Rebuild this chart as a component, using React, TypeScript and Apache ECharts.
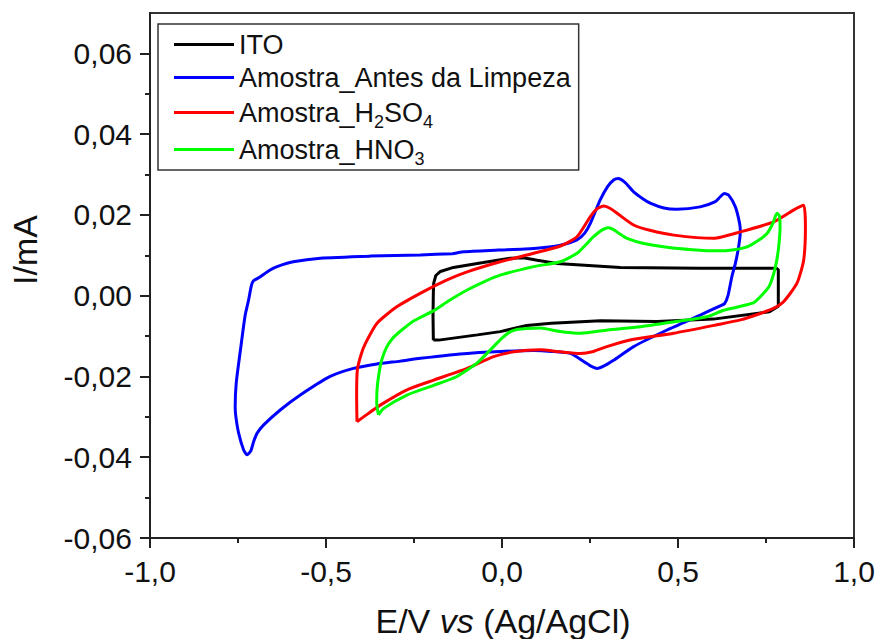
import React, { useEffect, useRef } from 'react';
import * as echarts from 'echarts';

// ---- data ----
const seriesNames = ['ITO', 'Amostra_Antes da Limpeza', 'Amostra_H2SO4', 'Amostra_HNO3'];
const seriesColors = ['#000000', '#0000ff', '#ff0000', '#00ff00'];
const yMajorTicks = [-0.06, -0.04, -0.02, 0, 0.02, 0.04, 0.06];
const yMinorTicks = [-0.05, -0.03, -0.01, 0.01, 0.03, 0.05];

const itoData: number[][] = [
  [-0.195, -0.0110], [-0.196, -0.0050], [-0.195, 0.0010], [-0.194, 0.0031], [-0.188, 0.0050],
  [-0.175, 0.0060], [-0.138, 0.0070], [-0.053, 0.0082], [0.024, 0.0093], [0.061, 0.0094], [0.100, 0.0088],
  [0.156, 0.0080], [0.336, 0.0070], [0.563, 0.0068], [0.780, 0.0068], [0.785, 0.0064],
  [0.785, -0.0026], [0.760, -0.0040], [0.600, -0.0058], [0.440, -0.0064], [0.280, -0.0062],
  [0.140, -0.0068], [0.070, -0.0074], [-0.005, -0.0089], [-0.070, -0.0097], [-0.180, -0.0110],
  [-0.195, -0.0110],
];

const antesData: number[][] = [
  [-0.140, 0.0104], [-0.109, 0.0109], [-0.010, 0.0113], [0.090, 0.0117], [0.166, 0.0125],
  [0.213, 0.0138], [0.235, 0.0155], [0.251, 0.0179], [0.279, 0.0237], [0.300, 0.0270],
  [0.318, 0.0287], [0.330, 0.0290], [0.350, 0.0280], [0.374, 0.0257], [0.400, 0.0240],
  [0.421, 0.0229], [0.460, 0.0217], [0.497, 0.0214], [0.563, 0.0220], [0.606, 0.0233],
  [0.620, 0.0245], [0.632, 0.0253], [0.644, 0.0249], [0.663, 0.0220], [0.675, 0.0179],
  [0.677, 0.0158], [0.672, 0.0120], [0.663, 0.0080], [0.653, 0.0047], [0.642, 0.0000],
  [0.632, -0.0020], [0.620, -0.0025], [0.563, -0.0048], [0.469, -0.0085], [0.374, -0.0126],
  [0.317, -0.0160], [0.290, -0.0174], [0.270, -0.0180], [0.250, -0.0173], [0.232, -0.0163],
  [0.194, -0.0143], [0.140, -0.0138], [0.090, -0.0136], [-0.099, -0.0143], [-0.232, -0.0155],
  [-0.289, -0.0162], [-0.355, -0.0169], [-0.422, -0.0180], [-0.488, -0.0200], [-0.573, -0.0246],
  [-0.630, -0.0283], [-0.677, -0.0320], [-0.696, -0.0341], [-0.705, -0.0360], [-0.714, -0.0385],
  [-0.724, -0.0394], [-0.734, -0.0382], [-0.748, -0.0341], [-0.756, -0.0300], [-0.758, -0.0275],
  [-0.755, -0.0216], [-0.743, -0.0134], [-0.730, -0.0050], [-0.720, -0.0011], [-0.712, 0.0025],
  [-0.706, 0.0037], [-0.690, 0.0045], [-0.660, 0.0063], [-0.639, 0.0072], [-0.593, 0.0084],
  [-0.516, 0.0093], [-0.374, 0.0098], [-0.232, 0.0101], [-0.140, 0.0104],
];

const h2so4Data: number[][] = [
  [-0.412, -0.0312], [-0.413, -0.0250], [-0.411, -0.0184], [-0.400, -0.0145], [-0.388, -0.0118],
  [-0.355, -0.0068], [-0.298, -0.0027], [-0.223, 0.0010], [-0.156, 0.0039], [-0.099, 0.0059],
  [-0.005, 0.0084], [0.090, 0.0105], [0.166, 0.0123], [0.213, 0.0146], [0.251, 0.0196],
  [0.270, 0.0215], [0.289, 0.0222], [0.308, 0.0216], [0.327, 0.0204], [0.374, 0.0175],
  [0.420, 0.0162], [0.488, 0.0150], [0.601, 0.0142], [0.677, 0.0158], [0.772, 0.0183],
  [0.828, 0.0212], [0.857, 0.0224], [0.862, 0.0171], [0.857, 0.0088], [0.838, 0.0031],
  [0.800, -0.0015], [0.772, -0.0031], [0.734, -0.0044], [0.677, -0.0060], [0.611, -0.0072],
  [0.488, -0.0093], [0.374, -0.0108], [0.298, -0.0126], [0.260, -0.0138], [0.222, -0.0143],
  [0.166, -0.0139], [0.109, -0.0134], [0.033, -0.0139], [-0.024, -0.0151], [-0.099, -0.0180],
  [-0.194, -0.0209], [-0.270, -0.0233], [-0.346, -0.0271], [-0.393, -0.0300], [-0.412, -0.0312],
];

const hno3Data: number[][] = [
  [-0.351, -0.0295], [-0.356, -0.0265], [-0.355, -0.0233], [-0.350, -0.0195], [-0.342, -0.0160],
  [-0.328, -0.0128], [-0.310, -0.0105], [-0.289, -0.0088], [-0.250, -0.0062], [-0.194, -0.0037],
  [-0.150, -0.0012], [-0.099, 0.0014], [-0.050, 0.0035], [-0.005, 0.0051], [0.090, 0.0072],
  [0.166, 0.0084], [0.213, 0.0105], [0.240, 0.0128], [0.260, 0.0146], [0.285, 0.0163],
  [0.303, 0.0168], [0.318, 0.0163], [0.336, 0.0152], [0.355, 0.0142], [0.400, 0.0130],
  [0.469, 0.0120], [0.540, 0.0114], [0.611, 0.0111], [0.660, 0.0114], [0.696, 0.0121],
  [0.730, 0.0138], [0.753, 0.0154], [0.770, 0.0180], [0.781, 0.0204], [0.788, 0.0198],
  [0.790, 0.0170], [0.786, 0.0121], [0.780, 0.0085], [0.772, 0.0055], [0.760, 0.0025],
  [0.743, 0.0006], [0.714, -0.0018], [0.630, -0.0036], [0.582, -0.0052], [0.480, -0.0066],
  [0.393, -0.0077], [0.300, -0.0085], [0.222, -0.0093], [0.160, -0.0088], [0.109, -0.0080],
  [0.071, -0.0081], [0.045, -0.0083], [0.024, -0.0089], [0.000, -0.0105], [-0.024, -0.0126],
  [-0.071, -0.0167], [-0.128, -0.0200], [-0.194, -0.0222], [-0.270, -0.0246], [-0.336, -0.0279],
  [-0.351, -0.0295],
];

const allData = [itoData, antesData, h2so4Data, hno3Data];

const legendLabels: Record<string, string> = {
  'ITO': '{n|ITO}',
  'Amostra_Antes da Limpeza': '{n|Amostra_Antes da Limpeza}',
  'Amostra_H2SO4': '{n|Amostra_H}{s|2}{n|SO}{s|4}',
  'Amostra_HNO3': '{n|Amostra_HNO}{s|3}',
};

const FONT = 'Liberation Sans, Arial, sans-serif';
const fmtComma = (v: number, d: number) => v.toFixed(d).replace('.', ',');

export default function App() {
  const ref = useRef<HTMLDivElement>(null);
  useEffect(() => {
    if (!ref.current) return;
    const chart = echarts.init(ref.current, undefined, { renderer: 'svg' });
    const axisColor = '#222';
    chart.setOption({
      animation: false,
      backgroundColor: '#ffffff',
      grid: {
        left: 150, right: 25, top: 13, bottom: 101, containLabel: false,
        show: true, borderColor: '#333', borderWidth: 2,
      },
      legend: {
        orient: 'vertical',
        left: 158,
        top: 24,
        data: seriesNames,
        selectedMode: false,
        icon: 'rect',
        itemWidth: 60,
        itemHeight: 3,
        itemGap: 0,
        padding: [4, 8, 2, 16],
        backgroundColor: '#ffffff',
        borderColor: '#333',
        borderWidth: 1.5,
        formatter: (name: string) => legendLabels[name] || name,
        textStyle: {
          fontFamily: FONT,
          fontSize: 27,
          lineHeight: 33,
          color: '#111',
          rich: {
            n: { fontFamily: FONT, fontSize: 27, lineHeight: 33, color: '#111' },
            s: { fontFamily: FONT, fontSize: 18, lineHeight: 18, color: '#111', padding: [19, 0, 0, 0] },
          },
        },
      },
      xAxis: {
        type: 'value',
        min: -1,
        max: 1,
        interval: 0.5,
        splitLine: { show: false },
        axisLine: { show: true, onZero: false, lineStyle: { color: axisColor, width: 2 } },
        axisTick: { show: true, inside: false, length: 10, lineStyle: { color: axisColor, width: 2 } },
        minorTick: { show: true, splitNumber: 2, length: 5, lineStyle: { color: axisColor, width: 2 } },
        axisLabel: {
          fontFamily: FONT, fontSize: 30, color: '#111', margin: 18,
          formatter: (v: number) => fmtComma(v, 1),
        },
      },
      yAxis: [
        {
          type: 'value',
          position: 'left',
          min: -0.06,
          max: 0.07,
          interval: 0.02,
          splitLine: { show: false },
          axisLine: { show: true, onZero: false, lineStyle: { color: axisColor, width: 2 } },
          axisTick: { show: true, inside: false, length: 10, customValues: yMajorTicks, lineStyle: { color: axisColor, width: 2 } },
          minorTick: { show: false },
          axisLabel: {
            fontFamily: FONT, fontSize: 30, color: '#111', margin: 18,
            customValues: yMajorTicks,
            formatter: (v: number) => fmtComma(v, 2),
          },
        },
        {
          type: 'value',
          position: 'left',
          min: -0.06,
          max: 0.07,
          interval: 0.02,
          alignTicks: false,
          splitLine: { show: false },
          axisLine: { show: false, onZero: false },
          axisTick: { show: true, inside: false, length: 5, customValues: yMinorTicks, lineStyle: { color: axisColor, width: 2 } },
          axisLabel: { show: false },
        },
      ],
      series: seriesNames.map((name, i) => ({
        name,
        type: 'line',
        data: allData[i],
        xAxisIndex: 0,
        yAxisIndex: 0,
        showSymbol: false,
        symbol: 'none',
        smooth: i === 0 ? false : 0.2,
        clip: true,
        color: seriesColors[i],
        lineStyle: { color: seriesColors[i], width: 3 },
        z: 2 + i,
      })),
      graphic: [
        {
          type: 'text',
          x: 503,
          y: 621,
          style: {
            text: '{n|E/V }{i|vs}{n| (Ag/AgCl)}',
            align: 'center',
            verticalAlign: 'middle',
            fontFamily: FONT,
            fontSize: 34,
            fill: '#111',
            rich: {
              n: { fontFamily: FONT, fontSize: 34, fill: '#111' },
              i: { fontFamily: FONT, fontSize: 34, fontStyle: 'italic', fill: '#111' },
            },
          },
        },
        {
          type: 'text',
          x: 25,
          y: 250,
          rotation: Math.PI / 2,
          style: {
            text: 'I/mA',
            align: 'center',
            verticalAlign: 'middle',
            fontFamily: FONT,
            fontSize: 34,
            fill: '#111',
          },
        },
      ],
    });
    return () => chart.dispose();
  }, []);
  return (
    <div
      ref={ref}
      style={{ position: 'fixed', left: 0, top: 0, width: 879, height: 639, background: '#fff' }}
    />
  );
}
